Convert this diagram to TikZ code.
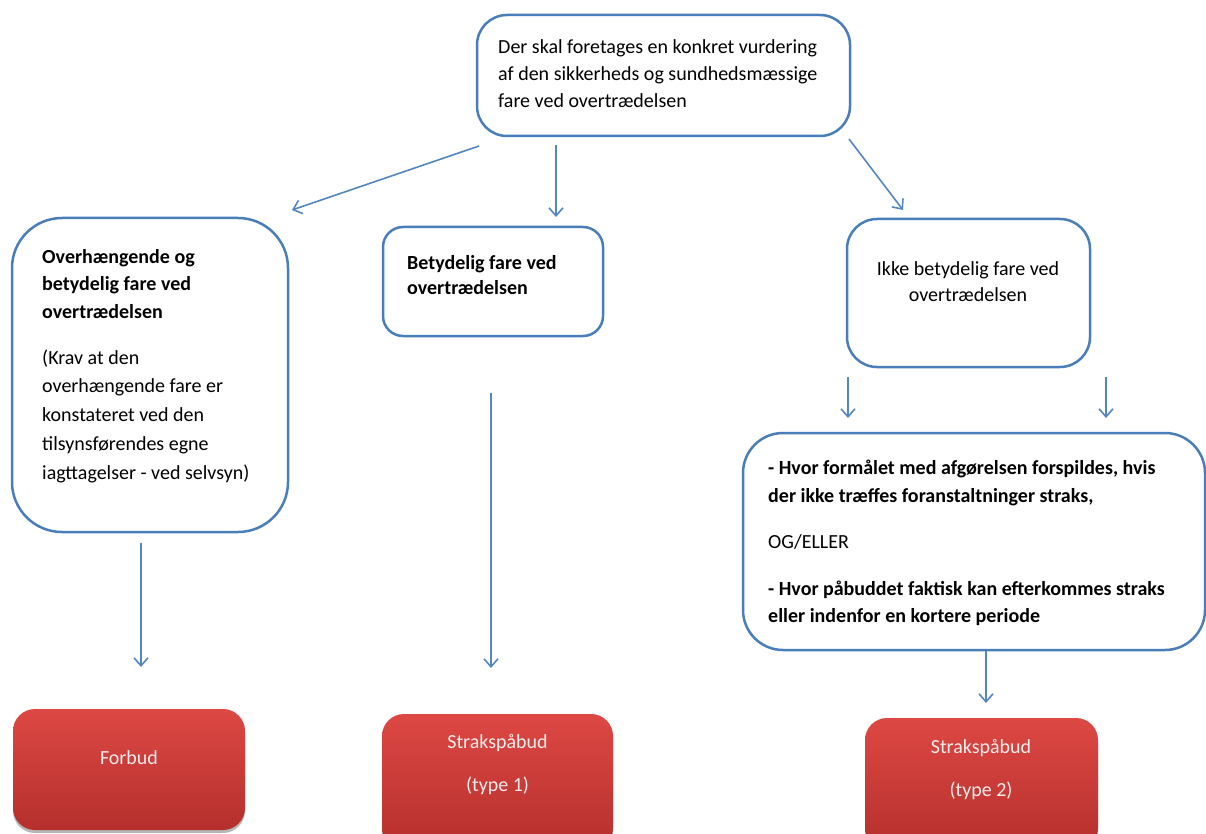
\documentclass[tikz,border=0pt]{standalone}
\usepackage{fontspec}
\setmainfont{Carlito}
\usetikzlibrary{arrows.meta,shadows}
\definecolor{boxblue}{RGB}{74,126,187}
\definecolor{arrblue}{RGB}{84,134,194}
\definecolor{redtop}{RGB}{221,72,68}
\definecolor{redbot}{RGB}{181,47,44}
\definecolor{txtwhite}{RGB}{246,236,236}
\newcommand\tstrut{\rule{0pt}{19pt}}
\tikzset{
  bbox/.style={draw=boxblue, line width=2.5pt, rounded corners=#1, fill=white, inner sep=0pt},
  rbox/.style={rounded corners=#1, top color=redtop, bottom color=redbot, draw=none, inner sep=0pt,
    drop shadow={shadow xshift=0pt, shadow yshift=-3pt, opacity=0.35, fill=black!80}},
  txt/.style={inner sep=0pt, anchor=north west, align=left, font=\fontsize{20}{#1}\selectfont},
  ctxt/.style={inner sep=0pt, anchor=north, align=center, font=\fontsize{20}{#1}\selectfont},
  wtxt/.style={inner sep=0pt, anchor=base, text=txtwhite, font=\fontsize{20}{24}\selectfont},
  arr/.style={draw=arrblue, line width=1.6pt, -{Straight Barb[length=8pt,width=14pt,line width=1.6pt]}},
}
\begin{document}
\begin{tikzpicture}[x=1pt,y=-1pt]
\clip (0,0) rectangle (1206,834);
\fill[white] (0,0) rectangle (1206,834);

% blue boxes
\node[bbox=30, minimum width=373, minimum height=121] (top) at (663.5,75.5) {};
\node[bbox=50, minimum width=276, minimum height=314] (left) at (150,375) {};
\node[bbox=20, minimum width=220, minimum height=109] (mid) at (493,281.5) {};
\node[bbox=30, minimum width=243, minimum height=148] (right) at (968.5,293) {};
\node[bbox=40, minimum width=462, minimum height=217] (big) at (974,541.5) {};

% red boxes
\node[rbox=22, minimum width=232, minimum height=121] (forbud) at (129,769.5) {};
\node[rbox=22, minimum width=231, minimum height=136] (straks1) at (497.5,782) {};
\node[rbox=22, minimum width=233, minimum height=132] (straks2) at (981.5,784) {};

% texts
\node[txt=27] (ttop) at (498,34) {\tstrut Der skal foretages en konkret vurdering\\af den sikkerheds og sundhedsmæssige\\fare ved overtrædelsen};
\node[txt=27.5] (tleft1) at (42,244) {\tstrut\bfseries Overhængende og\\\bfseries betydelig fare ved\\\bfseries overtrædelsen};
\node[txt=28.75] (tleft2) at (42,345) {\tstrut (Krav at den\\overhængende fare er\\konstateret ved den\\tilsynsførendes egne\\iagttagelser - ved selvsyn)};
\node[txt=25] (tmid) at (407,250) {\tstrut\bfseries Betydelig fare ved\\\bfseries overtrædelsen};
\node[ctxt=26] (tright) at (968,256) {\tstrut Ikke betydelig fare ved\\overtrædelsen};
\node[txt=28] (tbig1) at (768,455) {\tstrut\bfseries - Hvor formålet med afgørelsen forspildes, hvis\\\bfseries der ikke træffes foranstaltninger straks,};
\node[txt=27] (tbig2) at (768,529) {\tstrut OG/ELLER};
\node[txt=27] (tbig3) at (768,576) {\tstrut\bfseries - Hvor påbuddet faktisk kan efterkommes straks\\\bfseries eller indenfor en kortere periode};

\node[wtxt] (tforbud) at (129,764) {Forbud};
\node[wtxt] (ts1a) at (497.5,748) {Strakspåbud};
\node[wtxt] (ts1b) at (497.5,791) {(type 1)};
\node[wtxt] (ts2a) at (981,753) {Strakspåbud};
\node[wtxt] (ts2b) at (981,796) {(type 2)};

% arrow end points
\coordinate (a1s) at (479,146); \coordinate (a1e) at (292,210);
\coordinate (a2s) at (556,145); \coordinate (a2e) at (556,217);
\coordinate (a3s) at (849,139); \coordinate (a3e) at (903,210);
\coordinate (a4s) at (848,377); \coordinate (a4e) at (848,418);
\coordinate (a5s) at (1106,377); \coordinate (a5e) at (1106,418);
\coordinate (a6s) at (141,543); \coordinate (a6e) at (141,667);
\coordinate (a7s) at (491,393); \coordinate (a7e) at (491,668);
\coordinate (a8s) at (986,651); \coordinate (a8e) at (986,703);

\draw[arr] (a1s) -- (a1e);
\draw[arr] (a2s) -- (a2e);
\draw[arr] (a3s) -- (a3e);
\draw[arr] (a4s) -- (a4e);
\draw[arr] (a5s) -- (a5e);
\draw[arr] (a6s) -- (a6e);
\draw[arr] (a7s) -- (a7e);
\draw[arr] (a8s) -- (a8e);
\end{tikzpicture}
\end{document}
